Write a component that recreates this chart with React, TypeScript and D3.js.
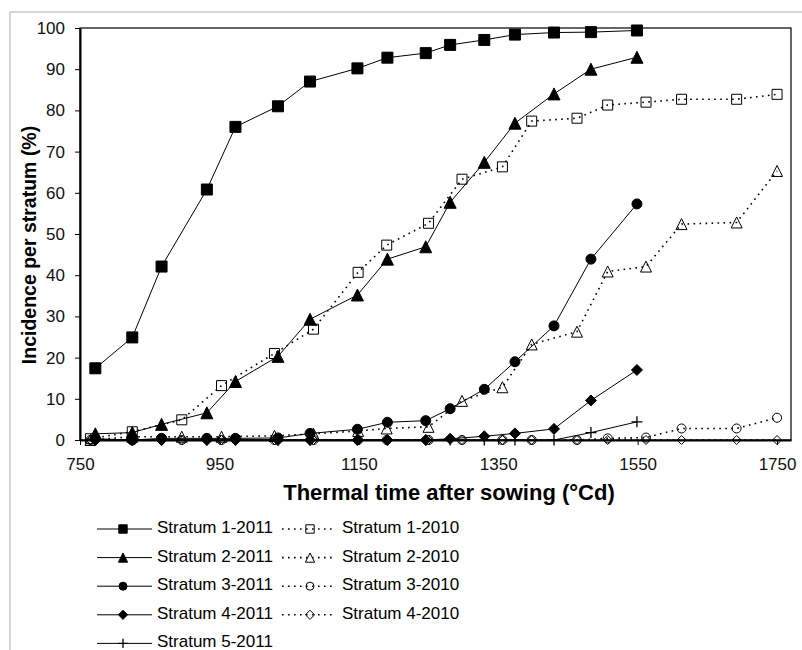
import React, { useEffect, useMemo, useRef } from 'react';
import * as d3 from 'd3';

const W = 802;
const H = 650;
const LEFT = 80;
const RIGHT = 791;
const TOP = 28;
const BOTTOM = 440;
const FONT = '"Liberation Sans", Arial, sans-serif';

// thermal time (°Cd) of each assessment date
const tt2011 = [772, 825, 867, 932, 973, 1034, 1080, 1148, 1191, 1246, 1281, 1330, 1374, 1430, 1483, 1549];
const tt2010 = [765, 825, 896, 953, 1029, 1085, 1149, 1190, 1250, 1298, 1356, 1398, 1463, 1507, 1562, 1613, 1692, 1750];

// incidence per stratum (%)
const st1y2011 = [17.4, 24.9, 42.1, 60.8, 76.0, 81.0, 87.0, 90.2, 92.8, 93.9, 95.9, 97.1, 98.4, 98.9, 99.0, 99.4];
const st2y2011 = [1.5, 1.8, 3.8, 6.6, 14.2, 20.3, 29.3, 35.2, 43.9, 46.9, 57.7, 67.4, 76.9, 84.0, 90.0, 92.9];
const st3y2011 = [0.3, 0, 0.4, 0.4, 0.4, 0.5, 1.6, 2.6, 4.3, 4.7, 7.6, 12.3, 19.0, 27.7, 43.9, 57.3];
const st4y2011 = [0, 0, 0, 0, 0, 0, 0, 0, 0, 0, 0.3, 0.9, 1.6, 2.7, 9.6, 17.0];
const st5y2011 = [0, 0, 0, 0, 0, 0, 0, 0, 0, 0, 0, 0, 0, 0, 1.8, 4.4];

const st1y2010 = [0.3, 2.0, 4.9, 13.2, 21.0, 26.9, 40.7, 47.3, 52.6, 63.3, 66.3, 77.4, 78.1, 81.3, 82.0, 82.7, 82.7, 83.9];
const st2y2010 = [0, 0.8, 0.8, 0.8, 1.0, 1.5, 2.2, 2.8, 3.2, 9.5, 12.8, 23.2, 26.3, 40.9, 42.1, 52.4, 52.8, 65.3];
const st3y2010 = [0, 0, 0, 0, 0, 0, 0, 0, 0, 0, 0, 0, 0, 0.4, 0.6, 2.8, 2.8, 5.4];
const st4y2010 = [0, 0, 0, 0, 0, 0, 0, 0, 0, 0, 0, 0, 0, 0, 0, 0, 0, 0];

const xTicks = [750, 950, 1150, 1350, 1550, 1750];
const yTicks = [0, 10, 20, 30, 40, 50, 60, 70, 80, 90, 100];

type Shape = 'square' | 'triangle' | 'circle' | 'diamond' | 'plus';

interface Series {
  name: string;
  x: number[];
  y: number[];
  shape: Shape;
  filled: boolean;
  dotted: boolean;
}

const series: Series[] = [
  { name: 'Stratum 1-2011', x: tt2011, y: st1y2011, shape: 'square', filled: true, dotted: false },
  { name: 'Stratum 1-2010', x: tt2010, y: st1y2010, shape: 'square', filled: false, dotted: true },
  { name: 'Stratum 2-2011', x: tt2011, y: st2y2011, shape: 'triangle', filled: true, dotted: false },
  { name: 'Stratum 2-2010', x: tt2010, y: st2y2010, shape: 'triangle', filled: false, dotted: true },
  { name: 'Stratum 3-2011', x: tt2011, y: st3y2011, shape: 'circle', filled: true, dotted: false },
  { name: 'Stratum 3-2010', x: tt2010, y: st3y2010, shape: 'circle', filled: false, dotted: true },
  { name: 'Stratum 4-2011', x: tt2011, y: st4y2011, shape: 'diamond', filled: true, dotted: false },
  { name: 'Stratum 4-2010', x: tt2010, y: st4y2010, shape: 'diamond', filled: false, dotted: true },
  { name: 'Stratum 5-2011', x: tt2011, y: st5y2011, shape: 'plus', filled: true, dotted: false },
];

const chartRadius = (s: Shape, filled: boolean) => {
  if (s === 'circle') return filled ? 5 : 4.5;
  if (s === 'diamond') return filled ? 5.5 : 4.5;
  if (s === 'triangle') return filled ? 6 : 5.5;
  if (s === 'plus') return 5.5;
  return filled ? 5.5 : 5;
};

const markerPath = (s: Shape, r: number) => {
  switch (s) {
    case 'square':
      return `M${-r},${-r}h${2 * r}v${2 * r}h${-2 * r}Z`;
    case 'triangle':
      return `M0,${-r}L${r},${r}L${-r},${r}Z`;
    case 'diamond':
      return `M0,${-r}L${r},0L0,${r}L${-r},0Z`;
    case 'plus':
      return `M${-r},0H${r}M0,${-r}V${r}`;
    default:
      return '';
  }
};

function Marker({ shape, filled, r, x, y }: { shape: Shape; filled: boolean; r: number; x: number; y: number }) {
  const fill = filled && shape !== 'plus' ? '#000' : 'none';
  if (shape === 'circle') {
    return <circle cx={x} cy={y} r={r} fill={fill} stroke="#000" strokeWidth={1} />;
  }
  return (
    <path
      transform={`translate(${x},${y})`}
      d={markerPath(shape, r)}
      fill={fill}
      stroke="#000"
      strokeWidth={shape === 'plus' ? 1.3 : 1}
    />
  );
}

function App() {
  const xAxisRef = useRef<SVGGElement>(null);
  const yAxisRef = useRef<SVGGElement>(null);

  const xScale = useMemo(() => d3.scaleLinear().domain([750, 1770]).range([LEFT, RIGHT]), []);
  const yScale = useMemo(() => d3.scaleLinear().domain([0, 100]).range([BOTTOM, TOP]), []);

  useEffect(() => {
    const gx = d3.select(xAxisRef.current!);
    gx.call(
      d3
        .axisBottom(xScale)
        .tickValues(xTicks)
        .tickSize(5)
        .tickSizeOuter(0)
        .tickPadding(13)
        .tickFormat(d3.format('d'))
    );
    const gy = d3.select(yAxisRef.current!);
    gy.call(
      d3
        .axisLeft(yScale)
        .tickValues(yTicks)
        .tickSize(5)
        .tickSizeOuter(0)
        .tickPadding(10)
        .tickFormat(d3.format('d'))
    );
    [gx, gy].forEach((g) => {
      g.attr('font-family', FONT).attr('font-size', 17);
      g.select('.domain').attr('stroke', '#000').attr('stroke-width', 2);
      g.selectAll('.tick line').attr('stroke', '#000').attr('stroke-width', 1);
      g.selectAll('.tick text').attr('fill', '#111');
    });
  }, [xScale, yScale]);

  const line = d3
    .line<[number, number]>()
    .x((d) => xScale(d[0]))
    .y((d) => yScale(d[1]));

  const legendRowY = (row: number) => 529 + row * 28.6;
  const legendCols = [
    { x1: 97, x2: 152, mx: 123, tx: 157 },
    { x1: 282, x2: 336, mx: 310, tx: 342 },
  ];

  return (
    <svg
      width={W}
      height={H}
      style={{ position: 'absolute', left: 0, top: 0, background: '#fff' }}
      fontFamily={FONT}
    >
      <path d={`M10,${H}V12H${W}`} fill="none" stroke="#c8c8c8" strokeWidth={1.5} />

      <rect
        x={LEFT}
        y={TOP}
        width={RIGHT - LEFT}
        height={BOTTOM - TOP}
        fill="none"
        stroke="#000"
        strokeWidth={1.2}
      />

      {series.map((s) => {
        const pts = s.x.map((x, i) => [x, s.y[i]] as [number, number]);
        const r = chartRadius(s.shape, s.filled);
        return (
          <g key={s.name}>
            <path
              d={line(pts) ?? ''}
              fill="none"
              stroke="#000"
              strokeWidth={s.dotted ? 1.6 : 1}
              strokeDasharray={s.dotted ? '1.6 4.4' : undefined}
            />
            {pts.map((p, i) => (
              <Marker
                key={`${s.name}-${i}`}
                shape={s.shape}
                filled={s.filled}
                r={r}
                x={xScale(p[0])}
                y={yScale(p[1])}
              />
            ))}
          </g>
        );
      })}

      <g ref={xAxisRef} transform={`translate(0,${BOTTOM})`} />
      <g ref={yAxisRef} transform={`translate(${LEFT},0)`} />

      <text x={449} y={500} textAnchor="middle" fontSize={22} fontWeight="bold" fill="#000">
        Thermal time after sowing (°Cd)
      </text>
      <text
        transform="translate(36,245) rotate(-90)"
        textAnchor="middle"
        fontSize={19.5}
        fontWeight="bold"
        fill="#000"
      >
        Incidence per stratum (%)
      </text>

      <g>
        {series.map((s, idx) => {
          const row = Math.floor(idx / 2);
          const col = legendCols[idx % 2];
          const y = legendRowY(row);
          const r = s.shape === 'circle' ? 4 : s.shape === 'square' ? 4.2 : 4.6;
          return (
            <g key={`legend-${s.name}`}>
              <line
                x1={col.x1}
                x2={col.x2}
                y1={y}
                y2={y}
                stroke="#000"
                strokeWidth={s.dotted ? 1.6 : 1}
                strokeDasharray={s.dotted ? '1.6 4.4' : undefined}
              />
              <Marker shape={s.shape} filled={s.filled} r={r} x={col.mx} y={y} />
              <text x={col.tx} y={y + 4} fontSize={17} fill="#000">
                {s.name}
              </text>
            </g>
          );
        })}
      </g>
    </svg>
  );
}

export default App;
